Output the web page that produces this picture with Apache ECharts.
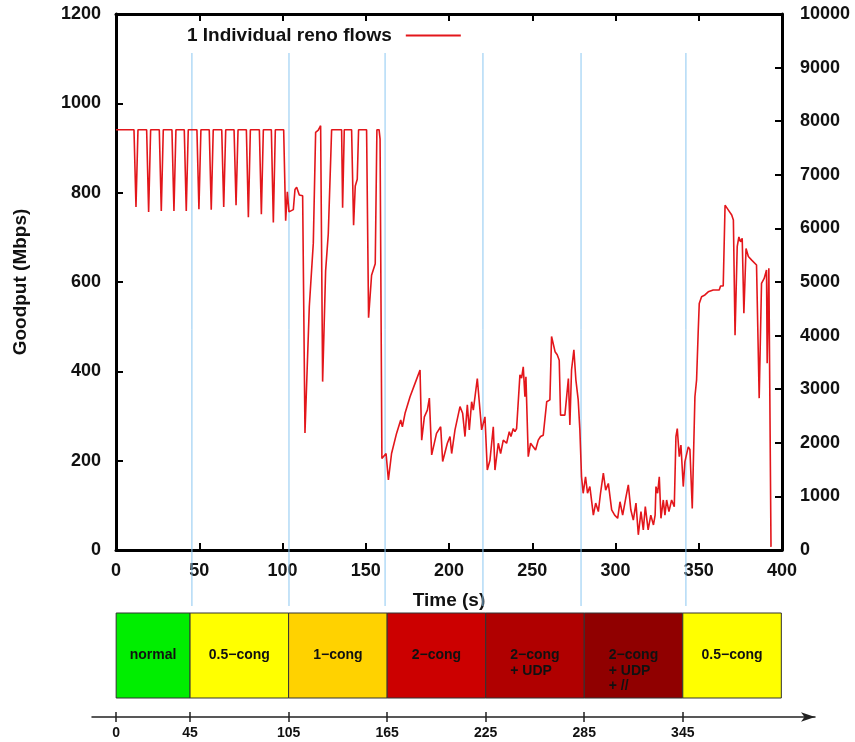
<!DOCTYPE html>
<html><head><meta charset="utf-8">
<script src="https://cdn.jsdelivr.net/npm/echarts@6/dist/echarts.min.js"></script>
<style>html,body{margin:0;padding:0;background:#fff}#c{width:855px;height:742px}</style>
</head><body><div id="c"></div>
<script>
// ---- data ----
const seriesName = '1 Individual reno flows';
const times = [
  0, 10.8, 12, 13.2, 18.4, 19.6, 20.8, 26, 27.2, 28.4, 33.6, 34.8, 36, 41, 42.2, 43.4,
  48.6, 49.8, 51, 56, 57.2, 58.4, 63.5, 64.7, 65.9, 70.9, 72.1, 73.3, 78.3, 79.5, 80.7,
  86.1, 87.3, 88.5, 93.3, 94.5, 95.7, 100.7, 101.9,
  102.9, 103.9, 106.5, 107.5, 108.5, 110.1, 112.1, 113.5, 116.1, 118.5, 119.9, 121.5,
  122.9, 124.1, 125.9, 127.5, 128.9, 129.5, 135.5, 136.1, 137.1, 141.5, 142.7, 143.7,
  144.9, 145.7, 150.5, 151.7, 153.5, 155.7, 156.7, 158, 158.6, 159.7,
  160.1, 162.2, 163.6, 165.5, 168.5, 171, 172, 173.6, 176.6, 179.6, 182.6, 183.6, 185.2,
  187, 188.2, 189.6, 192.5, 195, 196.2, 199, 200.6, 201.6, 203.6, 206.6, 208.2, 209.6,
  211, 212.2, 213.6, 214.6, 217, 219.6, 220.6, 221.6, 223, 224.6, 226.6, 227.6, 229.6,
  231, 232.6, 234.6, 236.2, 237.2, 238.6, 239.6, 240.6, 242.6, 243.6, 244.6, 245.6,
  246.2, 247.6, 249, 250.2, 252, 253.6, 255, 256.6, 257.7, 258.7, 260.6, 261.6, 263.7,
  265, 266.2, 267, 269.6, 270.6, 271.7, 272.6, 273.6, 275, 276.2, 277.6, 278.6, 279.6,
  280.6, 282, 283.2, 284.6, 286.7, 288.1, 289.7, 291, 292.7, 294.1, 295.7, 297.7, 299.5,
  301.3, 302.7, 304.3, 306.3, 307.7, 309.2, 310.7, 312.3, 313.7, 315.3, 316.7, 317.9,
  319.6, 321.2, 322.8, 323.8, 324.3, 325.3, 326.3, 327.3, 328.7, 329.7, 330.7, 332.1,
  333.7, 335.3, 336.3, 337.1, 338.3, 339.3, 340.7, 341.7, 343.7, 344.7, 346.1, 347.7,
  348.7, 349.7, 350.3, 351.7, 353.7, 355.7, 358.7, 362.3, 363.1, 364.7, 365.8, 367.8,
  369.8, 370.8, 371.8, 373.1, 374.1, 375.1, 376.1, 377.1, 378.4, 379.8, 381.8, 384.7,
  385.5, 386.3, 387.7, 389.3, 390.7, 391.1, 392.1, 392.7, 393.4
];
const goodput = [
  941, 941, 768, 941, 941, 757, 941, 941, 759, 941, 941, 759, 941, 941, 759, 941,
  941, 763, 941, 941, 762, 941, 941, 768, 941, 941, 772, 941, 941, 745, 941,
  941, 752, 941, 941, 733, 941, 941, 737,
  802, 757, 762, 807, 812, 795, 793, 262, 545, 687, 935, 940,
  950, 377, 625, 708, 870, 941, 941, 766, 941, 941, 727, 815,
  830, 941, 941, 520, 615, 641, 941, 941, 920, 205,
  201, 216, 157, 216, 261, 291, 276, 306, 343, 373, 403, 246, 298,
  313, 340, 213, 261, 276, 198, 239, 254, 216, 269, 321, 306, 254,
  325, 269, 332, 313, 384, 269, 265, 298, 179, 201, 276, 179, 239,
  216, 246, 239, 265, 254, 272, 265, 272, 392, 385, 410, 343,
  388, 209, 239, 239, 224, 246, 254, 257, 261, 332, 336, 478, 444,
  437, 425, 302, 302, 302, 384, 280, 403, 448, 381, 336, 269, 164,
  127, 164, 127, 142, 78, 105, 86, 127, 172, 134, 149, 90, 78,
  71, 108, 78, 119, 146, 90, 67, 105, 34, 86, 45, 97,
  45, 78, 56, 78, 142, 127, 164, 71, 112, 78, 112, 86,
  112, 97, 254, 272, 209, 235, 142, 198, 231, 225, 93, 343,
  381, 492, 552, 567, 571, 578, 582, 582, 591, 591, 772, 761,
  750, 739, 481, 679, 701, 690, 698, 530, 675, 657, 649, 638,
  638, 340, 597, 608, 627, 418, 631, 627, 7
];
const xTickStep = 50;
const leftTickStep = 200;
const rightTickStep = 1000;
const markerTimes = [45.6, 103.9, 161.6, 220.4, 279.3, 342.3];
const phaseStarts = [0, 45, 105, 165, 225, 285, 345];
const phaseEnds = [45, 105, 165, 225, 285, 345, 405];
const phaseLabels = ['normal', '0.5\u2212cong', '1\u2212cong', '2\u2212cong', '2\u2212cong\n+ UDP', '2\u2212cong\n+ UDP\n+ //', '0.5\u2212cong'];
const phaseColors = ['#00ee00', '#ffff00', '#ffd200', '#cc0000', '#b00000', '#900000', '#ffff00'];

// ---- chart ----
const FONT = "'Liberation Sans', Arial, Helvetica, sans-serif";
const measureCtx = document.createElement('canvas').getContext('2d');
function textWidth(s, font) { measureCtx.font = font; return measureCtx.measureText(s).width; }

const lineData = times.map((t, i) => [t, goodput[i]]);
const phaseData = phaseStarts.map((s, i) => [s, phaseEnds[i], i]);
const boxFont = 'bold 14px ' + FONT;
const plain = v => String(v);
const axisLabelStyle = { fontSize: 18, fontWeight: 'bold', color: '#111', fontFamily: FONT, formatter: plain };
const frameLine = { show: true, onZero: false, lineStyle: { color: '#000', width: 3 } };
const innerTick = { inside: true, length: 7, lineStyle: { width: 2, color: '#000' } };

const chart = echarts.init(document.getElementById('c'), null, { renderer: 'canvas' });
chart.setOption({
  animation: false,
  backgroundColor: '#fff',
  textStyle: { fontFamily: FONT },
  grid: [
    { left: 116, right: 73, top: 14, bottom: 192 },
    { left: 92, width: 723, top: 613, height: 85 },
    { left: 116, right: 73, top: 53, bottom: 136 }
  ],
  legend: {
    data: [seriesName],
    left: 182, top: 21,
    align: 'right',
    icon: 'rect', itemWidth: 55, itemHeight: 2,
    textStyle: { fontSize: 19, fontWeight: 'bold', color: '#111', padding: [0, 9, 0, 0] }
  },
  xAxis: [
    { gridIndex: 0, type: 'value', min: 0, max: 400, interval: xTickStep, position: 'bottom',
      axisLine: frameLine, axisTick: innerTick,
      axisLabel: Object.assign({ margin: 12 }, axisLabelStyle), splitLine: { show: false },
      name: 'Time (s)', nameLocation: 'middle', nameGap: 41,
      nameTextStyle: { fontSize: 19, fontWeight: 'bold', color: '#111' } },
    { gridIndex: 0, type: 'value', min: 0, max: 400, interval: xTickStep, position: 'top',
      axisLine: frameLine, axisTick: innerTick,
      axisLabel: { show: false }, splitLine: { show: false } },
    { gridIndex: 1, type: 'value', min: -14.7, max: 425.5, position: 'bottom', offset: 19,
      axisLine: { show: true, onZero: false, symbol: ['none', 'arrow'], symbolSize: [7, 14], lineStyle: { color: '#222', width: 1.5 } },
      axisTick: { show: true, inside: false, length: 5, customValues: phaseStarts, lineStyle: { color: '#222', width: 1.5 } },
      axisLabel: { show: true, customValues: phaseStarts, margin: 9, fontSize: 14, fontWeight: 'bold', color: '#111', formatter: plain },
      splitLine: { show: false } },
    { gridIndex: 1, type: 'value', min: -14.7, max: 425.5, position: 'bottom', offset: 19,
      axisLine: { show: false, onZero: false },
      axisTick: { show: true, inside: true, length: 5, customValues: phaseStarts, lineStyle: { color: '#222', width: 1.5 } },
      axisLabel: { show: false }, splitLine: { show: false } },
    { gridIndex: 2, type: 'value', min: 0, max: 400, show: false }
  ],
  yAxis: [
    { gridIndex: 0, type: 'value', min: 0, max: 1200, interval: leftTickStep, position: 'left',
      axisLine: frameLine, axisTick: innerTick,
      axisLabel: Object.assign({ margin: 15 }, axisLabelStyle), splitLine: { show: false },
      name: 'Goodput (Mbps)', nameLocation: 'middle', nameGap: 86, nameRotate: 90,
      nameTextStyle: { fontSize: 19, fontWeight: 'bold', color: '#111' } },
    { gridIndex: 0, type: 'value', min: 0, max: 10000, interval: rightTickStep, position: 'right',
      axisLine: frameLine, axisTick: innerTick,
      axisLabel: Object.assign({ margin: 18 }, axisLabelStyle), splitLine: { show: false } },
    { gridIndex: 1, type: 'value', min: 0, max: 1, show: false },
    { gridIndex: 2, type: 'value', min: 0, max: 1, show: false }
  ],
  series: [
    { type: 'custom', xAxisIndex: 4, yAxisIndex: 3, z: 1, silent: true,
      data: markerTimes.map(t => [t]),
      renderItem: (params, api) => {
        const a = api.coord([api.value(0), 0]);
        const b = api.coord([api.value(0), 1]);
        return { type: 'line', shape: { x1: a[0], y1: a[1], x2: b[0], y2: b[1] },
          style: { stroke: '#8cc8f2', lineWidth: 1 } };
      } },
    { name: seriesName, type: 'line', xAxisIndex: 0, yAxisIndex: 0, z: 3,
      data: lineData, showSymbol: false, symbol: 'none',
      lineStyle: { color: '#e3161b', width: 1.6 }, itemStyle: { color: '#e3161b' } },
    { type: 'custom', xAxisIndex: 2, yAxisIndex: 2, silent: true,
      data: phaseData,
      renderItem: (params, api) => {
        const tl = api.coord([api.value(0), 1]);
        const br = api.coord([api.value(1), 0]);
        const i = api.value(2);
        const label = phaseLabels[i];
        const lines = label.split('\n');
        const cx = (tl[0] + br[0]) / 2, cy = (tl[1] + br[1]) / 2;
        const lh = 15.5;
        let text;
        if (lines.length === 1) {
          text = { type: 'text', style: { text: label, x: cx, y: cy, align: 'center', verticalAlign: 'middle', font: boxFont, fill: '#111' } };
        } else {
          const w = textWidth(lines[0], boxFont);
          text = { type: 'text', style: { text: label, x: cx - w / 2, y: cy - lh / 2, align: 'left', verticalAlign: 'top', lineHeight: lh, font: boxFont, fill: '#111' } };
        }
        return { type: 'group', children: [
          { type: 'rect', shape: { x: tl[0], y: tl[1], width: br[0] - tl[0], height: br[1] - tl[1] },
            style: { fill: phaseColors[i], stroke: '#333', lineWidth: 1 } },
          text
        ] };
      } }
  ]
});
</script></body></html>
